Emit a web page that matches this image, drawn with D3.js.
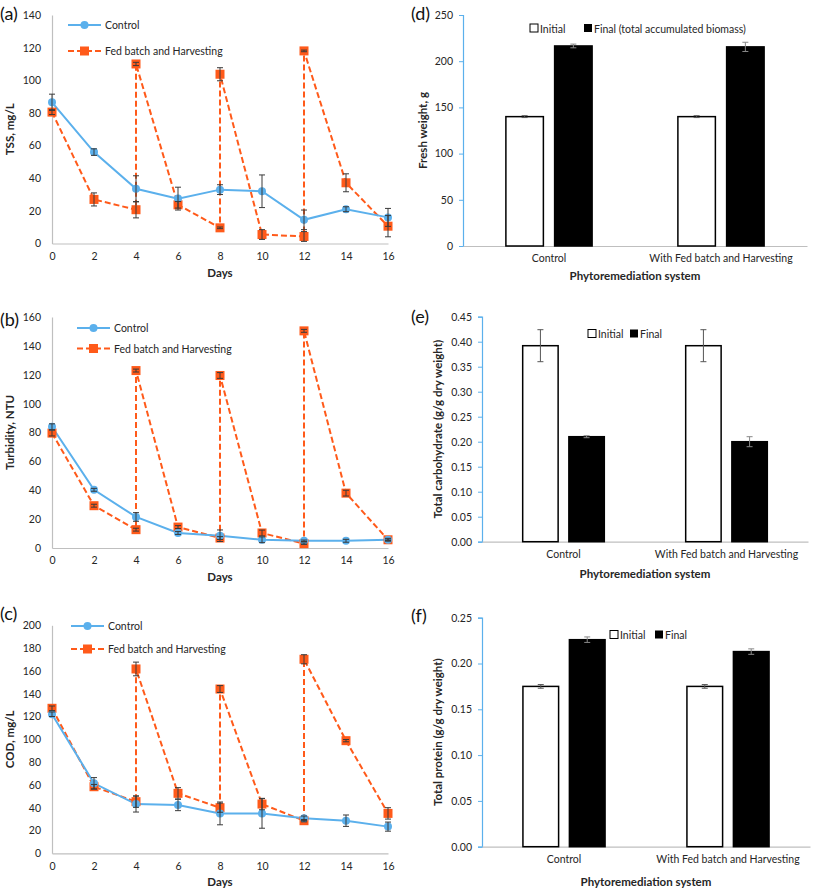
<!DOCTYPE html>
<html><head><meta charset="utf-8">
<script src="https://cdn.jsdelivr.net/npm/d3@7"></script>
<style>
html,body{margin:0;padding:0;background:#fff;}
svg{display:block;font-family:Lato,"Open Sans",sans-serif;}
</style></head>
<body>
<svg id="chart" width="813" height="890"></svg>
<script>
// ---------- data ----------
const days = [0,2,4,6,8,10,12,14,16];
const fedDays = [0,2,4,4,6,8,8,10,12,12,14,16];
const dayTicks = [0,2,4,6,8,10,12,14,16];

const tssControl    = [86.5,56,33.5,27.5,33,32,14.5,21,16];
const tssControlErr = [5,2,8,7,3,10,6,1.5,5.5];
const tssFed        = [80.5,27,20.7,110,23.7,9.6,103.7,5.5,4.3,118,37.2,10.6];
const tssFedErr     = [1.5,4,5,1,2,0.5,4,3,3,0.5,5.5,6.5];

const turbControl    = [84,40.3,21.5,10.4,8.5,5.7,5,5,5.7];
const turbControlErr = [2,1,3,1,4,2,0.5,1,0.5];
const turbFed        = [79.6,29.3,12.7,122.9,14.5,6.9,119.5,10.4,3,150.4,38,5.7];
const turbFedErr     = [2,1,1,1,1,1,2,2,0.5,1,2,1];

const codControl    = [122,61.4,43.2,42.4,35,35,30.7,28.6,23.4];
const codControlErr = [2,5,7,5,10,13,2,5,4];
const codFed        = [127.2,58.4,45.3,161.7,52.6,40,144.1,43.2,28.6,170.2,98.8,35];
const codFedErr     = [2,2,5,6,5,4,3,5,1,4,1,5];

const systems = ["Control","With Fed batch and Harvesting"];
const groups = ["Initial","Final"];
const freshInitial = [140,140],      freshInitialErr = [1,1];
const freshFinal   = [216.5,215.5],  freshFinalErr   = [2,5];
const carbInitial  = [0.392,0.392],  carbInitialErr  = [0.032,0.032];
const carbFinal    = [0.21,0.20],    carbFinalErr    = [0.002,0.01];
const protInitial  = [0.175,0.175],  protInitialErr  = [0.002,0.002];
const protFinal    = [0.226,0.213],  protFinalErr    = [0.003,0.003];

// ---------- style ----------
const BLUE = "#5BB0EC", ORANGE = "#FF5A1A", ERR = "#3a3a3a", AXIS = "#BFBFBF", TXT = "#262626";
const FS = 10.5, FSB = 11.5, FSL = 18;
const svg = d3.select("#chart");

function lineChart(o){
  const g = svg.append("g");
  const x = d3.scaleLinear().domain([0,16]).range([o.x0,o.x1]);
  const y = d3.scaleLinear().domain([0,o.ymax]).range([o.y0,o.y1]);
  const ya = g.append("g").attr("transform",`translate(${o.x0},0)`)
    .call(d3.axisLeft(y).tickValues(d3.range(0,o.ymax+1,o.step)).tickSize(0).tickPadding(11));
  const xa = g.append("g").attr("transform",`translate(0,${o.y0})`)
    .call(d3.axisBottom(x).tickValues(dayTicks).tickSize(0).tickPadding(9));
  [ya,xa].forEach(a=>{a.select(".domain").attr("stroke",AXIS).attr("stroke-width",1.2);
    a.selectAll("text").attr("font-size",FS).attr("fill",TXT).attr("font-family","Lato");});
  g.append("text").attr("transform",`translate(${o.x0-38},${(o.y0+o.y1)/2}) rotate(-90)`)
    .attr("text-anchor","middle").attr("font-weight","bold").attr("font-size",FSB).attr("fill",TXT).text(o.ytitle);
  g.append("text").attr("x",(o.x0+o.x1)/2).attr("y",o.y0+33).attr("text-anchor","middle")
    .attr("font-weight","bold").attr("font-size",FSB).attr("fill",TXT).text("Days");
  g.append("text").attr("x",0).attr("y",o.labelY).attr("font-size",FSL).attr("fill","#111").text(o.label);

  const ctrl = days.map((d,i)=>({d,v:o.ctrl[i],e:o.ctrlErr[i]}));
  const fed = fedDays.map((d,i)=>({d,v:o.fed[i],e:o.fedErr[i]}));
  const line = d3.line().x(p=>x(p.d)).y(p=>y(p.v));
  g.append("path").datum(fed).attr("d",line).attr("fill","none").attr("stroke",ORANGE)
    .attr("stroke-width",2).attr("stroke-dasharray","6,3");
  g.append("path").datum(ctrl).attr("d",line).attr("fill","none").attr("stroke",BLUE).attr("stroke-width",2);
  function errs(data){
    const eg = g.append("g").attr("stroke",ERR).attr("stroke-width",1);
    data.forEach(p=>{
      if(p.e<=0) return;
      const cx=x(p.d), t=y(p.v+p.e), b=y(p.v-p.e);
      eg.append("line").attr("x1",cx).attr("x2",cx).attr("y1",t).attr("y2",b);
      eg.append("line").attr("x1",cx-3).attr("x2",cx+3).attr("y1",t).attr("y2",t);
      eg.append("line").attr("x1",cx-3).attr("x2",cx+3).attr("y1",b).attr("y2",b);
    });
  }
  g.selectAll(".sq").data(fed).join("rect").attr("x",p=>x(p.d)-4.5).attr("y",p=>y(p.v)-4.5)
    .attr("width",9).attr("height",9).attr("fill",ORANGE);
  g.selectAll(".ci").data(ctrl).join("circle").attr("cx",p=>x(p.d)).attr("cy",p=>y(p.v)).attr("r",4).attr("fill",BLUE);
  errs(fed); errs(ctrl);
  const lg = g.append("g");
  lg.append("line").attr("x1",o.legX).attr("x2",o.legX+33).attr("y1",o.legY).attr("y2",o.legY).attr("stroke",BLUE).attr("stroke-width",2);
  lg.append("circle").attr("cx",o.legX+16.5).attr("cy",o.legY).attr("r",4).attr("fill",BLUE);
  lg.append("text").attr("x",o.legX+37).attr("y",o.legY+4).attr("font-size",FS).attr("fill",TXT).text("Control");
  const y2 = o.legY+o.legGap;
  lg.append("line").attr("x1",o.legX).attr("x2",o.legX+33).attr("y1",y2).attr("y2",y2).attr("stroke",ORANGE).attr("stroke-width",2).attr("stroke-dasharray","6,3");
  lg.append("rect").attr("x",o.legX+12).attr("y",y2-4.5).attr("width",9).attr("height",9).attr("fill",ORANGE);
  lg.append("text").attr("x",o.legX+37).attr("y",y2+4).attr("font-size",FS).attr("fill",TXT).text("Fed batch and Harvesting");
}

lineChart({x0:52,x1:388,y0:243.5,y1:15,ymax:140,step:20,ytitle:"TSS, mg/L",label:"(a)",labelY:20,
  ctrl:tssControl,ctrlErr:tssControlErr,fed:tssFed,fedErr:tssFedErr,legX:68,legY:25,legGap:26});
lineChart({x0:52,x1:388,y0:548,y1:317,ymax:160,step:20,ytitle:"Turbidity, NTU",label:"(b)",labelY:326,
  ctrl:turbControl,ctrlErr:turbControlErr,fed:turbFed,fedErr:turbFedErr,legX:77,legY:328,legGap:20.5});
lineChart({x0:52,x1:388,y0:853.3,y1:625.3,ymax:200,step:20,ytitle:"COD, mg/L",label:"(c)",labelY:620,
  ctrl:codControl,ctrlErr:codControlErr,fed:codFed,fedErr:codFedErr,legX:71,legY:626,legGap:23});

function barChart(o){
  const g = svg.append("g");
  const x = d3.scaleBand().domain(systems).range([o.x0,o.x1]);
  const bw = x.bandwidth();
  const xi = d3.scaleBand().domain(groups).range([bw*0.245,bw*0.755]).paddingInner(0.2);
  const y = d3.scaleLinear().domain([0,o.ymax]).range([o.y0,o.y1]);
  const ya = g.append("g").attr("transform",`translate(${o.x0},0)`)
    .call(d3.axisLeft(y).tickValues(d3.range(0,o.ymax+o.step/2,o.step)).tickFormat(d3.format(o.fmt)).tickSize(4).tickPadding(6));
  ya.select(".domain").attr("stroke",BLUE).attr("stroke-width",1.2);
  ya.selectAll(".tick line").attr("stroke",BLUE);
  const xa = g.append("g").attr("transform",`translate(0,${o.y0})`)
    .call(d3.axisBottom(x).tickSize(0).tickPadding(9));
  xa.select(".domain").attr("stroke",AXIS).attr("stroke-width",1.2);
  [ya,xa].forEach(a=>a.selectAll("text").attr("font-size",FS).attr("fill",TXT).attr("font-family","Lato"));
  g.append("text").attr("transform",`translate(${o.ytx},${(o.y0+o.y1)/2}) rotate(-90)`)
    .attr("text-anchor","middle").attr("font-weight","bold").attr("font-size",FSB).attr("fill",TXT).text(o.ytitle);
  g.append("text").attr("x",(o.x0+o.x1)/2).attr("y",o.y0+o.xtDy).attr("text-anchor","middle")
    .attr("font-weight","bold").attr("font-size",FSB).attr("fill",TXT).text("Phytoremediation system");
  g.append("text").attr("x",o.labelX).attr("y",o.labelY).attr("font-size",FSL).attr("fill","#111").text(o.label);

  const data = [];
  systems.forEach((s,i)=>{
    data.push({s,k:"Initial",v:o.init[i],e:o.initErr[i]});
    data.push({s,k:"Final",v:o.fin[i],e:o.finErr[i]});
  });
  g.selectAll(".bar").data(data).join("rect")
    .attr("x",d=>x(d.s)+xi(d.k)+0.75).attr("width",xi.bandwidth()-1.5)
    .attr("y",d=>y(d.v)).attr("height",d=>y(0)-y(d.v))
    .attr("fill",d=>d.k==="Initial"?"#fff":"#000").attr("stroke","#000").attr("stroke-width",1.5);
  const eg = g.append("g").attr("stroke-width",1);
  data.forEach(d=>{
    const cx = x(d.s)+xi(d.k)+xi.bandwidth()/2, t=y(d.v+d.e), b=y(d.v-d.e);
    const c = d.k==="Final" ? "#888" : "#555";
    eg.append("line").attr("x1",cx).attr("x2",cx).attr("y1",t).attr("y2",b).attr("stroke",c);
    eg.append("line").attr("x1",cx-3).attr("x2",cx+3).attr("y1",t).attr("y2",t).attr("stroke",c);
    eg.append("line").attr("x1",cx-3).attr("x2",cx+3).attr("y1",b).attr("y2",b).attr("stroke",c);
  });
  const lg = g.append("g");
  lg.append("rect").attr("x",o.legX).attr("y",o.legY-4.5).attr("width",8).attr("height",8).attr("fill","#fff").attr("stroke","#000").attr("stroke-width",1);
  lg.append("text").attr("x",o.legX+10).attr("y",o.legY+4).attr("font-size",FS).attr("fill",TXT).text("Initial");
  lg.append("rect").attr("x",o.legX2).attr("y",o.legY-4.5).attr("width",8).attr("height",8).attr("fill","#000");
  lg.append("text").attr("x",o.legX2+10).attr("y",o.legY+4).attr("font-size",FS).attr("fill",TXT).text(o.finalLabel);
}

barChart({x0:463,x1:807,y0:246,y1:15,ymax:250,step:50,fmt:"d",ytitle:"Fresh weight, g",ytx:427,xtDy:34,
  label:"(d)",labelX:411,labelY:20,init:freshInitial,initErr:freshInitialErr,fin:freshFinal,finErr:freshFinalErr,
  legX:530,legX2:584,legY:28.5,finalLabel:"Final (total accumulated biomass)"});
barChart({x0:482,x1:808,y0:541.7,y1:316.7,ymax:0.45,step:0.05,fmt:".2f",ytitle:"Total carbohydrate  (g/g dry weight)",ytx:442,xtDy:36,
  label:"(e)",labelX:411,labelY:323,init:carbInitial,initErr:carbInitialErr,fin:carbFinal,finErr:carbFinalErr,
  legX:588,legX2:630,legY:334,finalLabel:"Final"});
barChart({x0:482,x1:810,y0:846.7,y1:617.7,ymax:0.25,step:0.05,fmt:".2f",ytitle:"Total protein (g/g dry weight)",ytx:442,xtDy:39,
  label:"(f)",labelX:411,labelY:622,init:protInitial,initErr:protInitialErr,fin:protFinal,finErr:protFinalErr,
  legX:610,legX2:655,legY:635,finalLabel:"Final"});
</script>
</body></html>
